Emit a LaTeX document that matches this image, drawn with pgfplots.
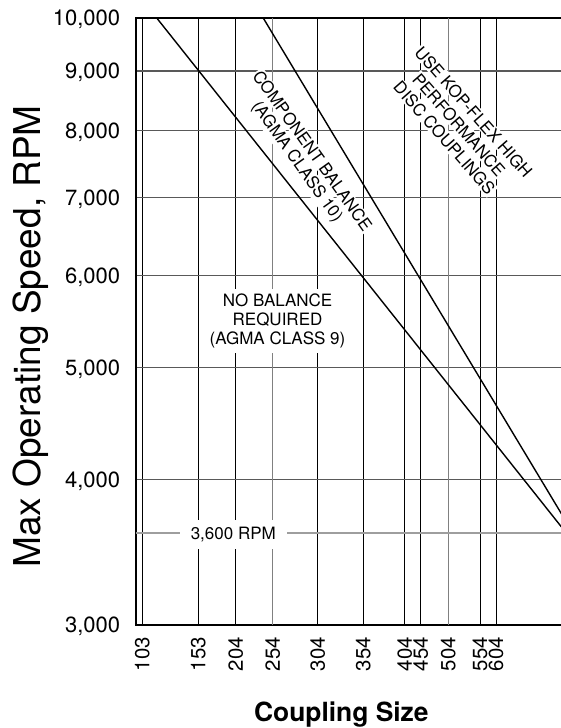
\documentclass[border=0pt]{standalone}
\usepackage{pgfplots}
\pgfplotsset{compat=1.18}
\usepackage{fontspec}
\setmainfont{TeX Gyre Heros}
\begin{document}
\begin{tikzpicture}
\path[use as bounding box] (0,0) rectangle (280.5pt,364pt);
\begin{axis}[
  at={(67.85pt,51.65pt)}, anchor=south west,
  scale only axis, width=214.65pt, height=303.35pt,
  xmin=135.7, xmax=565, ymin=3000, ymax=10000, ymode=log,
  xtick={142.3,198.3,235.7,317.7,363.3,404.7,420.7,480,496},
  xticklabels={103,153,204,304,354,404,454,554,604},
  extra x ticks={272.7,448.3},
  extra x tick labels={254,504},
  extra x tick style={major x grid style={draw=black!50, line width=0.5pt}},
  ytick={3000,4000,5000,6000,7000,8000,9000,10000},
  yticklabels={{3,000},{4,000},{5,000},{6,000},{7,000},{8,000},{9,000},{10,000}},
  extra y ticks={3600},
  extra y tick labels={},
  extra y tick style={major y grid style={draw=black!38, line width=1pt}},
  grid=major,
  major x grid style={draw=black, line width=0.45pt},
  major y grid style={draw=black!65, line width=0.65pt},
  major tick length=0pt,
  axis line style={line width=1pt},
  xticklabel style={rotate=90, anchor=east, inner sep=0pt, font=\fontsize{10.2}{12}\selectfont},
  xticklabel shift=6.1pt,
  yticklabel style={anchor=east, inner sep=0pt, text depth=0pt, font=\fontsize{11}{13}\selectfont},
  yticklabel shift=7.6pt,
  ylabel={Max Operating Speed, RPM},
  ylabel style={at={(axis description cs:-0.2206,0.475)}, anchor=base, font=\fontsize{18.5}{21}\selectfont},
  xlabel={Coupling Size},
  xlabel style={at={(axis description cs:0.479,-0.159)}, anchor=base, font=\bfseries\fontsize{13.2}{15}\selectfont},
]
\node[fill=white, inner sep=2.5pt, align=center, font=\fontsize{8.5}{9.5}\selectfont] at (axis cs:277.5,5481) {NO BALANCE\\REQUIRED\\(AGMA CLASS 9)};
\node[fill=white, inner xsep=5.6pt, inner ysep=3.5pt, font=\fontsize{8.5}{9.5}\selectfont] at (axis cs:233.3,3590) {3,600 RPM};
\node[fill=white, inner sep=0.6pt, rotate=-54.5, font=\fontsize{8.4}{9.5}\selectfont] at (axis cs:312.7,7684) {COMPONENT BALANCE};
\node[fill=white, inner sep=0.6pt, rotate=-54.5, font=\fontsize{8.4}{9.5}\selectfont] at (axis cs:296.8,7514) {(AGMA CLASS 10)};
\node[fill=white, inner sep=0.6pt, rotate=-48.7, font=\fontsize{8.4}{9.5}\selectfont] at (axis cs:473.6,8297) {USE KOP-FLEX HIGH};
\node[fill=white, inner sep=0.6pt, rotate=-48.7, font=\fontsize{8.4}{9.5}\selectfont] at (axis cs:459,8087) {PERFORMANCE};
\node[fill=white, inner sep=0.6pt, rotate=-48.7, font=\fontsize{8.4}{9.5}\selectfont] at (axis cs:444.4,7883) {DISC COUPLINGS};
\addplot[black, line width=0.7pt] coordinates {(156.7,10000) (565,3610)};
\addplot[black, line width=0.7pt] coordinates {(263.2,10000) (565,3695)};
\end{axis}
\end{tikzpicture}
\end{document}
